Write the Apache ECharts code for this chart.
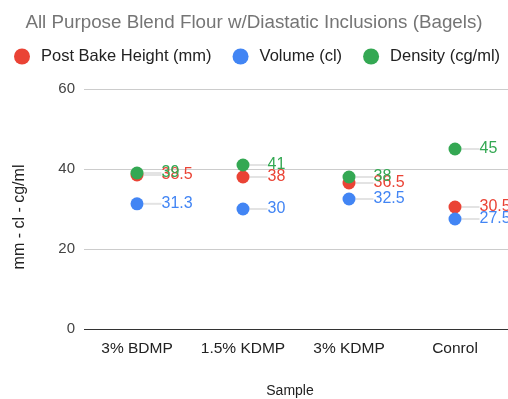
<!DOCTYPE html>
<html><head><meta charset="utf-8">
<script src="https://cdn.jsdelivr.net/npm/echarts@6/dist/echarts.min.js"></script>
<style>html,body{margin:0;padding:0;background:#fff}#c{width:508px;height:399px}</style>
</head><body><div id="c"></div>
<script>
const categories = ['3% BDMP', '1.5% KDMP', '3% KDMP', 'Conrol'];
const postBakeHeight = [38.5, 38, 36.5, 30.5];
const volume = [31.3, 30, 32.5, 27.5];
const density = [39, 41, 38, 45];
const yTicks = { min: 0, max: 60, interval: 20 };

const FONT = 'Arial, "Liberation Sans", sans-serif';
function mk(name, data, color) {
  return {
    name, type: 'scatter', data, symbol: 'circle', symbolSize: 13,
    itemStyle: { color, opacity: 1 },
    label: { show: true, position: 'right', distance: 5, color, fontSize: 16, fontFamily: FONT },
    labelLayout: { dx: 13 },
    labelLine: { show: true, lineStyle: { color: '#e3e3e3', width: 2 } },
    emphasis: { disabled: true }
  };
}
const chart = echarts.init(document.getElementById('c'), null, { renderer: 'canvas' });
chart.setOption({
  animation: false,
  title: { text: 'All Purpose Blend Flour w/Diastatic Inclusions (Bagels)', left: 'center', top: 8,
    textStyle: { color: '#757575', fontSize: 18.8, fontWeight: 'normal', fontFamily: FONT } },
  legend: { top: 43, left: 9, icon: 'circle', itemWidth: 16, itemHeight: 16, itemGap: 21,
    textStyle: { fontSize: 16.5, color: '#222', fontFamily: FONT, padding: [0, 0, 0, 6] } },
  grid: { left: 84, right: 0, top: 89, bottom: 70, outerBoundsMode: 'none', containLabel: false },
  xAxis: { type: 'category', data: categories, name: 'Sample', nameLocation: 'middle', nameGap: 55,
    nameTextStyle: { fontSize: 14, color: '#222', fontFamily: FONT, padding: [0, 12, 0, 0] },
    axisLine: { show: false }, axisTick: { show: false },
    axisLabel: { interval: 0, fontSize: 15.5, color: '#222', margin: 12, fontFamily: FONT } },
  yAxis: { type: 'value', min: yTicks.min, max: yTicks.max, interval: yTicks.interval,
    name: 'mm - cl - cg/ml', nameLocation: 'middle', nameGap: 56,
    nameTextStyle: { fontSize: 16, color: '#222', fontFamily: FONT, padding: [0, 16, 0, 0] },
    axisLine: { show: false }, axisTick: { show: false },
    axisLabel: { fontSize: 15, color: '#444', margin: 9, fontFamily: FONT },
    splitLine: { lineStyle: { color: ['#333', '#cccccc', '#cccccc', '#cccccc'] } } },
  series: [
    mk('Post Bake Height (mm)', postBakeHeight, '#ea4335'),
    mk('Volume (cl)', volume, '#4285f4'),
    mk('Density (cg/ml)', density, '#34a853')
  ]
});
</script></body></html>
